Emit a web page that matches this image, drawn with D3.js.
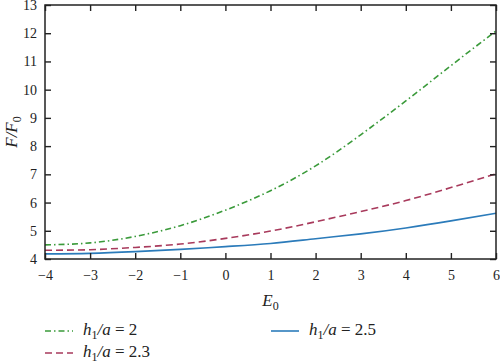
<!DOCTYPE html>
<html>
<head>
<meta charset="utf-8">
<script src="https://cdn.jsdelivr.net/npm/d3@7"></script>
<style>
  body { margin: 0; background: #fff; }
  #chart text, #chart tspan { font-family: "Liberation Serif", "Tinos", "Times New Roman", serif !important; }
</style>
</head>
<body>
<svg id="chart" width="500" height="364"></svg>
<script>
var width = 500, height = 364;
var margin = {top: 5, right: 4, bottom: 105, left: 45};
var serif = "Liberation Serif";

// data
var e0 = [-4, -3, -2, -1, 0, 1, 2, 3, 4, 5, 6];
var h20 = [4.5, 4.57, 4.8, 5.18, 5.73, 6.42, 7.3, 8.4, 9.6, 10.85, 12.08];
var h23 = [4.31, 4.33, 4.41, 4.53, 4.73, 4.99, 5.32, 5.68, 6.07, 6.53, 7.02];
var h25 = [4.18, 4.2, 4.26, 4.34, 4.44, 4.55, 4.72, 4.89, 5.1, 5.35, 5.62];
var xTicks = [-4, -3, -2, -1, 0, 1, 2, 3, 4, 5, 6];
var yTicks = [4, 5, 6, 7, 8, 9, 10, 11, 12, 13];

var series = [
  {name: "2", values: h20, color: "#3a9a3a", dash: "6,3,1.5,3"},
  {name: "2.3", values: h23, color: "#a83a5c", dash: "7,4"},
  {name: "2.5", values: h25, color: "#2b7bba", dash: null}
];

var w = width - margin.left - margin.right;
var h = height - margin.top - margin.bottom;

var svg = d3.select("#chart");

var g = svg.append("g")
    .attr("transform", "translate(" + margin.left + "," + margin.top + ")");

var x = d3.scaleLinear().domain([-4, 6]).range([0, w]);
var y = d3.scaleLinear().domain([4, 13]).range([h, 0]);

var line = d3.line()
    .x(function (d, i) { return x(e0[i]); })
    .y(function (d) { return y(d); })
    .curve(d3.curveNatural);

series.forEach(function (s) {
  g.append("path")
      .attr("d", line(s.values))
      .attr("fill", "none")
      .attr("stroke", s.color)
      .attr("stroke-width", 1.6)
      .attr("stroke-dasharray", s.dash);
});

// axes, ticks pointing inward
function styleAxis(sel) {
  sel.attr("font-family", serif).attr("font-size", 14);
  sel.selectAll(".domain").remove();
  sel.selectAll(".tick line").attr("stroke", "#222").attr("stroke-width", 1.4);
  sel.selectAll("text")
      .attr("font-family", serif)
      .attr("font-size", 14)
      .attr("fill", "#222");
}

var fmt = function (d) { return d < 0 ? "\u2212" + Math.abs(d) : d; };

g.append("g")
    .attr("transform", "translate(0," + h + ")")
    .call(d3.axisBottom(x).tickValues(xTicks).tickSize(-6).tickPadding(11).tickFormat(fmt))
    .call(styleAxis);

g.append("g")
    .call(d3.axisTop(x).tickValues(xTicks).tickSize(-6).tickFormat(""))
    .call(styleAxis);

g.append("g")
    .call(d3.axisLeft(y).tickValues(yTicks).tickSize(-6).tickPadding(8))
    .call(styleAxis);

g.append("g")
    .attr("transform", "translate(" + w + ",0)")
    .call(d3.axisRight(y).tickValues(yTicks).tickSize(-6).tickFormat(""))
    .call(styleAxis);

g.append("rect")
    .attr("width", w)
    .attr("height", h)
    .attr("fill", "none")
    .attr("stroke", "#222")
    .attr("stroke-width", 1.5);

// axis titles
var xt = svg.append("text")
    .attr("x", margin.left + w / 2)
    .attr("y", 306)
    .attr("text-anchor", "middle")
    .attr("fill", "#222")
    .attr("font-family", serif)
    .attr("font-size", 17)
    .attr("font-style", "italic");
xt.append("tspan").text("E");
xt.append("tspan").attr("dy", 4).attr("font-size", 12).attr("font-style", "normal").text("0");

var yt = svg.append("text")
    .attr("transform", "translate(17," + (margin.top + h / 2) + ") rotate(-90)")
    .attr("text-anchor", "middle")
    .attr("fill", "#222")
    .attr("font-family", serif)
    .attr("font-size", 17)
    .attr("font-style", "italic");
yt.append("tspan").text("F/F");
yt.append("tspan").attr("dy", 4).attr("font-size", 12).attr("font-style", "normal").text("0");

// legend
var legendPos = [[45, 331], [45, 353], [271, 331]];
series.forEach(function (s, i) {
  var lx = legendPos[i][0], ly = legendPos[i][1];
  svg.append("line")
      .attr("x1", lx).attr("x2", lx + 28)
      .attr("y1", ly).attr("y2", ly)
      .attr("stroke", s.color)
      .attr("stroke-width", 1.6)
      .attr("stroke-dasharray", s.dash);
  var t = svg.append("text")
      .attr("x", lx + 38)
      .attr("y", ly + 4)
      .attr("fill", "#222")
      .attr("font-family", serif)
      .attr("font-size", 17);
  t.append("tspan").attr("font-style", "italic").text("h");
  t.append("tspan").attr("dy", 4).attr("font-size", 12).text("1");
  t.append("tspan").attr("dy", -4).attr("font-style", "italic").text("/a");
  t.append("tspan").text(" = " + s.name);
});
</script>
</body>
</html>
